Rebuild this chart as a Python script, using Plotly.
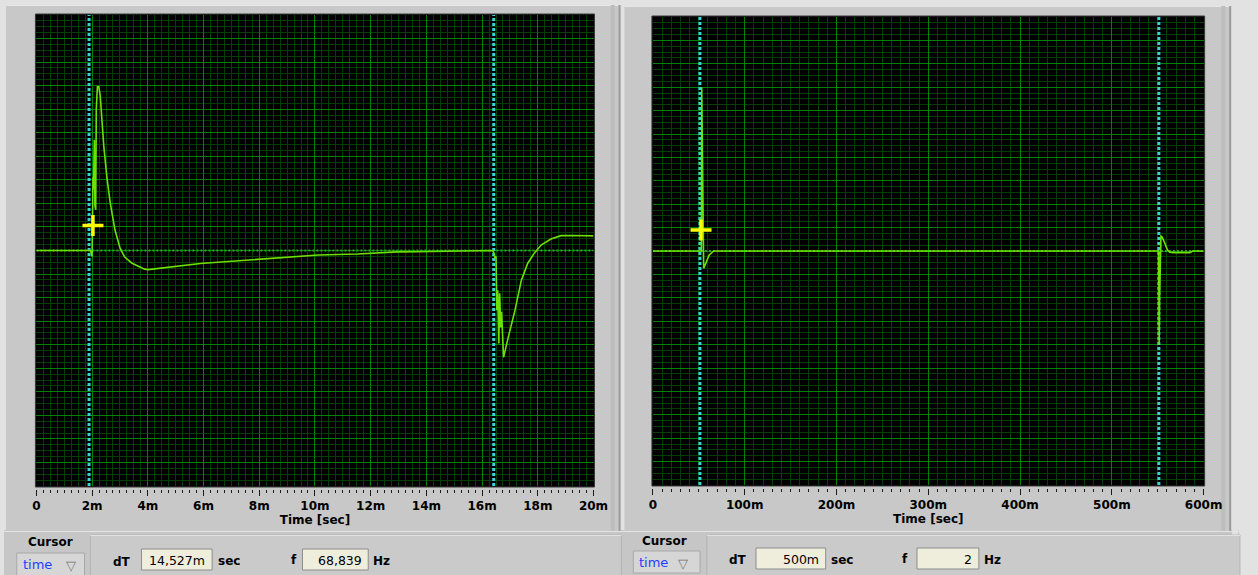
import plotly.graph_objects as go

W, H = 1258, 575

# ---------------- data (time in ms, amplitude in grid divisions) ----------------
left_time_ms = [0, 1.94, 1.99, 2.00, 2.03, 2.05, 2.08, 2.10, 2.13, 2.15, 2.19, 2.24,
                2.29, 2.36, 2.42, 2.54, 2.65, 2.82, 3.00, 3.17, 3.42, 3.88, 4.02,
                5.89, 7.65, 8.82, 10.12, 11.53, 12.95, 13.65, 16.30, 16.38, 16.42,
                16.46, 16.50, 16.53, 16.56, 16.60, 16.63, 16.67, 16.70, 16.77,
                16.94, 17.18, 17.41, 17.64, 17.88, 18.12, 18.47, 18.83, 19.29, 20.0]
left_signal = [0, 0, -0.20, -0.25, 3.10, 2.60, 4.70, 1.90, 1.73, 6.00, 6.95, 6.95,
               6.60, 5.44, 4.42, 3.01, 2.03, 0.88, 0.11, -0.28, -0.53, -0.79, -0.81,
               -0.55, -0.41, -0.29, -0.19, -0.15, -0.06, -0.05, -0.02, 0, -0.10,
               -0.30, -0.26, -2.54, -1.69, -3.95, -1.82, -3.27, -2.60, -4.54,
               -3.68, -2.54, -1.26, -0.54, -0.10, 0.23, 0.49, 0.63, 0.64, 0.62]

right_time_ms = [0, 52.8, 53.2, 55.3, 57.8, 61.3, 66.3, 551.0, 551.5, 552.0, 553.5,
                 554.5, 557.0, 560.6, 563.0, 567.7, 585.0, 588.0, 600.0]
right_signal = [0, 0, 7.00, -0.74, -0.51, -0.17, 0, 0, -4.00, -2.00, 0.64,
                0.62, 0.40, 0.04, -0.05, -0.07, -0.07, 0, 0]

left_cursor_ms = [1.89, 16.417]
right_cursor_ms = [51.2, 551.2]
left_marker_t, left_marker_v = [2.03], [1.06]
right_marker_t, right_marker_v = [52.4], [0.90]

left_tick_vals = [0, 2, 4, 6, 8, 10, 12, 14, 16, 18, 20]
left_tick_text = ["0", "2m", "4m", "6m", "8m", "10m", "12m", "14m", "16m", "18m", "20m"]
right_tick_vals = [0, 100, 200, 300, 400, 500, 600]
right_tick_text = ["0", "100m", "200m", "300m", "400m", "500m", "600m"]
x_title = "Time [sec]"
y_range = [-10, 10]

readout_left = ["14,527m", "68,839"]
readout_right = ["500m", "2"]

# ---------------- styling ----------------
GRID_MAJOR = "#008200"
GRID_MINOR = "#053e05"
SIG = "#6ee000"
CUR = "#35d6d6"
ZERO = "#2fa52f"
FONT = "DejaVu Sans"


def fx(x):
    return x / W


def fy(y):
    return 1 - y / H


fig = go.Figure()


def add_panel(xa, ya, t, v, cursors, mt, mv, xmax):
    fig.add_trace(go.Scatter(x=[0, xmax], y=[0, 0], mode="lines", xaxis=xa, yaxis=ya,
                             line=dict(color=ZERO, width=2, dash="2px,2px"), hoverinfo="skip"))
    for c in cursors:
        fig.add_trace(go.Scatter(x=[c, c], y=y_range, mode="lines", xaxis=xa, yaxis=ya,
                                 line=dict(color=CUR, width=3, dash="3px,2px"), hoverinfo="skip"))
    fig.add_trace(go.Scatter(x=t, y=v, mode="lines", xaxis=xa, yaxis=ya,
                             line=dict(color=SIG, width=1.6), hoverinfo="skip"))
    fig.add_trace(go.Scatter(x=mt, y=mv, mode="markers", xaxis=xa, yaxis=ya,
                             marker=dict(symbol="cross-thin", size=15,
                                         line=dict(color="#ffff00", width=3.5)),
                             hoverinfo="skip"))


add_panel("x", "y", left_time_ms, left_signal, left_cursor_ms, left_marker_t, left_marker_v, 20)
add_panel("x2", "y2", right_time_ms, right_signal, right_cursor_ms, right_marker_t, right_marker_v, 600)


def xaxis_cfg(x0, x1, rng, vals, texts, minor_dt, pos_y):
    return dict(domain=[fx(x0), fx(x1)], range=rng, tickmode="array", tickvals=vals,
                ticktext=texts, showgrid=True, gridcolor=GRID_MAJOR, gridwidth=1,
                zeroline=False, showline=False, ticks="outside", ticklen=6, tickwidth=1,
                tickcolor="#1a1a1a",
                minor=dict(tickmode="linear", tick0=0, dtick=minor_dt, showgrid=True,
                           gridcolor=GRID_MINOR, gridwidth=1, ticks="outside", ticklen=3,
                           tickcolor="#1a1a1a", tickwidth=1),
                tickfont=dict(family=FONT, size=12, color="#000000", weight="bold"),
                title=dict(text=x_title, standoff=3,
                           font=dict(family=FONT, size=12, color="#000000", weight="bold")),
                anchor="free", position=fy(pos_y), fixedrange=True)


def yaxis_cfg(y0, y1, anchor):
    return dict(domain=[fy(y1), fy(y0)], range=y_range, tickmode="linear", tick0=0, dtick=1,
                showticklabels=False, ticks="", showgrid=True, gridcolor=GRID_MAJOR,
                gridwidth=1, zeroline=False, showline=False,
                minor=dict(tickmode="linear", tick0=0, dtick=0.25, showgrid=True,
                           gridcolor=GRID_MINOR, gridwidth=1, ticks=""),
                anchor=anchor, fixedrange=True)


L = dict(x0=33, x1=600.5, y0=15, y1=486)
R = dict(x0=661, x1=1222, y0=17, y1=485)


def rect(x0, y0, x1, y1, fill, line=None, lw=0):
    return dict(type="rect", xref="paper", yref="paper", x0=fx(x0), x1=fx(x1),
                y0=fy(y1), y1=fy(y0), fillcolor=fill, layer="below",
                line=dict(color=line or fill, width=lw))


def hline(x0, x1, y, color, lw=1):
    return dict(type="line", xref="paper", yref="paper", x0=fx(x0), x1=fx(x1),
                y0=fy(y), y1=fy(y), line=dict(color=color, width=lw), layer="below")


def vline(x, y0, y1, color, lw=1):
    return dict(type="line", xref="paper", yref="paper", x0=fx(x), x1=fx(x),
                y0=fy(y0), y1=fy(y1), line=dict(color=color, width=lw), layer="below")


shapes = [
    # page bottom band
    rect(0, 530, W, H, "#c6c6c6"),
    # graph panels
    rect(2, 5, 628, 531, "#c8c8c8"),
    hline(2, 628, 5.5, "#e6e6e6", 1),
    vline(627, 5, 531, "#9c9c9c", 2),
    vline(620, 5, 531, "#bdbdbd", 4),
    rect(632, 6, 1250, 531, "#c8c8c8"),
    hline(632, 1250, 6.5, "#e6e6e6", 1),
    vline(1249, 6, 531, "#9c9c9c", 2),
    vline(1242, 6, 531, "#bdbdbd", 4),
    vline(1254, 0, 575, "#e2e2e2", 6),
    hline(0, W, 531.5, "#e4e4e4", 1),
    # plot areas
    rect(L["x0"] - 1, L["y0"] - 1, L["x1"] + 1, L["y1"] + 1, "#000000", "#3a3a3a", 1),
    rect(R["x0"] - 1, R["y0"] - 1, R["x1"] + 1, R["y1"] + 1, "#000000", "#3a3a3a", 1),
    # readout panels
    rect(88, 535, 629, 576, "#cacaca", "#b4b4b4", 1),
    hline(88, 629, 535.5, "#e2e2e2", 1),
    rect(716, 535, 1259, 576, "#cacaca", "#b4b4b4", 1),
    hline(716, 1259, 535.5, "#e2e2e2", 1),
    # dropdowns
    rect(13, 553, 82, 576, "#d6d6d6", "#a8a8a8", 1),
    rect(641, 551, 709, 573, "#d6d6d6", "#a8a8a8", 1),
    # value boxes
    rect(140, 549, 212, 570, "#efeedd", "#8c8c8c", 1),
    rect(304, 549, 371, 570, "#efeedd", "#8c8c8c", 1),
    rect(766, 548, 837, 569, "#efeedd", "#8c8c8c", 1),
    rect(930, 548, 993, 569, "#efeedd", "#8c8c8c", 1),
]


def ann(text, x, y, xanchor="center", size=12, bold=True, color="#000000"):
    return dict(text=text, x=fx(x), y=fy(y), xref="paper", yref="paper", xanchor=xanchor,
                yanchor="middle", showarrow=False,
                font=dict(family=FONT, size=size, color=color,
                          weight="bold" if bold else "normal"))


annotations = [
    ann("Cursor", 47, 542),
    ann("time", 34, 564, size=13, bold=False, color="#1f3dff"),
    ann("▽", 68, 565, size=13, bold=False, color="#777777"),
    ann("dT", 120, 562),
    ann(readout_left[0], 207, 560, xanchor="right", size=12.5, bold=False),
    ann("sec", 229, 561),
    ann("f", 295, 560),
    ann(readout_left[1], 367, 560, xanchor="right", size=12.5, bold=False),
    ann("Hz", 385, 561),
    ann("Cursor", 673, 541),
    ann("time", 662, 562, size=13, bold=False, color="#1f3dff"),
    ann("▽", 692, 563, size=13, bold=False, color="#777777"),
    ann("dT", 748, 560),
    ann(readout_right[0], 832, 559, xanchor="right", size=12.5, bold=False),
    ann("sec", 854, 560),
    ann("f", 918, 559),
    ann(readout_right[1], 988, 559, xanchor="right", size=12.5, bold=False),
    ann("Hz", 1007, 560),
]

fig.update_layout(
    width=W, height=H, margin=dict(l=0, r=0, t=0, b=0), autosize=False,
    paper_bgcolor="#e2e2e2", plot_bgcolor="rgba(0,0,0,0)",
    showlegend=False, shapes=shapes, annotations=annotations,
    xaxis=xaxis_cfg(L["x0"], L["x1"], [0, 20], left_tick_vals, left_tick_text, 0.25, 489),
    yaxis=yaxis_cfg(L["y0"], L["y1"], "x"),
    xaxis2=xaxis_cfg(R["x0"], R["x1"], [0, 600], right_tick_vals, right_tick_text, 10, 488),
    yaxis2=yaxis_cfg(R["y0"], R["y1"], "x2"),
)

fig.write_html(
    "out.html",
    config={"displayModeBar": False, "responsive": False},
    default_width=f"{W}px", default_height=f"{H}px",
    post_script="document.body.style.margin='0';document.body.style.padding='0';"
                "document.body.style.overflow='hidden';"
                "document.documentElement.style.overflow='hidden';",
)
